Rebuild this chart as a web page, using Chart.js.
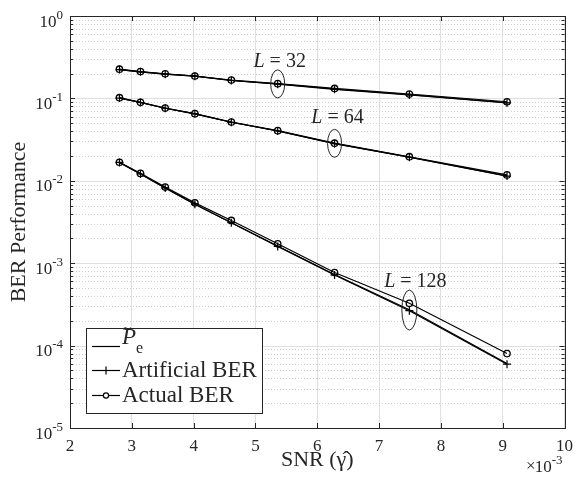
<!DOCTYPE html>
<html><head><meta charset="utf-8">
<script src="https://cdn.jsdelivr.net/npm/chart.js@4.4.1/dist/chart.umd.min.js"></script>
<style>
html,body{margin:0;padding:0;background:#fff;}
#wrap{position:relative;width:581px;height:477px;}
</style></head><body>
<div id="wrap"><canvas id="c"></canvas></div>
<script>
'use strict';

/* ── DATA ────────────────────────────────────────────────── */
const SNR = [2.80, 3.14, 3.54, 4.02, 4.61, 5.36, 6.28, 7.49, 9.07];   // ×10^-3
const X_TICKS = [2, 3, 4, 5, 6, 7, 8, 9, 10];
const Y_DECADES = [-5, -4, -3, -2, -1, 0];

const PE_32  = [0.224, 0.210, 0.197, 0.186, 0.165, 0.150, 0.130, 0.111, 0.089];
const ART_32 = [0.224, 0.210, 0.197, 0.186, 0.165, 0.149, 0.129, 0.110, 0.088];
const ACT_32 = [0.226, 0.212, 0.199, 0.187, 0.167, 0.151, 0.132, 0.113, 0.091];

const PE_64  = [0.101, 0.0893, 0.0760, 0.0650, 0.0514, 0.0403, 0.0283, 0.0194, 0.0115];
const ART_64 = [0.101, 0.0892, 0.0759, 0.0649, 0.0513, 0.0402, 0.0282, 0.0193, 0.0114];
const ACT_64 = [0.102, 0.0897, 0.0764, 0.0653, 0.0517, 0.0406, 0.0286, 0.0196, 0.0118];

const PE_128  = [0.0167, 0.0121, 0.0082, 0.0052, 0.0031, 0.00162, 0.00073, 0.000272, 0.0000605];
const ART_128 = [0.0167, 0.0121, 0.0082, 0.0052, 0.0031, 0.00160, 0.00072, 0.000265, 0.0000595];
const ACT_128 = [0.0168, 0.0123, 0.0084, 0.0054, 0.0033, 0.00172, 0.00077, 0.000326, 0.0000800];

const GROUP_L = ['32', '64', '128'];
const ANCHOR_X = [5.36, 6.28, 7.49];
const ANCHOR_Y = [0.150, 0.0285, 0.00027];

/* ── STYLE ───────────────────────────────────────────────── */
const SERIF = "'Liberation Serif','Times New Roman',serif";
const INK = '#262626';
const ELL = [ {rx:7, ry:14, dx:2, gap:3}, {rx:7, ry:14, dx:3, gap:6}, {rx:7.5, ry:20, dx:6, gap:3} ];

const pts = arr => SNR.map((x, i) => ({ x, y: arr[i] }));

const GROUPS = [
  [PE_32, ART_32, ACT_32],
  [PE_64, ART_64, ACT_64],
  [PE_128, ART_128, ACT_128],
];

const datasets = [];
GROUPS.forEach(([pe, art, act], gi) => {
  datasets.push({ label:'Pe L=' + GROUP_L[gi], data:pts(pe), borderColor:'#000', borderWidth:1.2,
    pointRadius:0 });
  datasets.push({ label:'Artificial L=' + GROUP_L[gi], data:pts(art), borderColor:'#000', borderWidth:1.2,
    pointStyle:'cross', pointRadius:4, pointBorderColor:'#000', pointBorderWidth:1.2 });
  datasets.push({ label:'Actual L=' + GROUP_L[gi], data:pts(act), borderColor:'#000', borderWidth:1.2,
    pointStyle:'circle', pointRadius:3.2, pointBorderColor:'#000', pointBackgroundColor:'rgba(0,0,0,0)',
    pointBorderWidth:1.3 });
});

/* ── HELPERS ─────────────────────────────────────────────── */
// "10" with a raised exponent, right edge at xRight, base baseline at yBase
function supText(ctx, base, exp, xRight, yBase) {
  ctx.font = `17px ${SERIF}`; const wb = ctx.measureText(base).width;
  ctx.font = `13px ${SERIF}`; const we = ctx.measureText(exp).width;
  const x0 = xRight - wb - we;
  ctx.textAlign = 'left'; ctx.textBaseline = 'alphabetic';
  ctx.font = `17px ${SERIF}`; ctx.fillText(base, x0, yBase);
  ctx.font = `13px ${SERIF}`; ctx.fillText(exp, x0 + wb, yBase - 8);
}

/* ── PLUGIN: grid, frame, labels, legend ─────────────────── */
const decor = {
  id:'decor',
  beforeDatasetsDraw(chart) {
    const ctx = chart.ctx, ys = chart.scales.y;
    const { left, right } = chart.chartArea;
    ctx.save();
    ctx.lineWidth = 1;
    Y_DECADES.forEach((d, di) => {
      for (let k = 1; k <= 9; k++) {
        if (k > 1 && di === Y_DECADES.length - 1) break;
        const y = Math.round(ys.getPixelForValue(k * Math.pow(10, d))) + 0.5;
        if (k === 1) { ctx.strokeStyle = '#e0e0e0'; ctx.setLineDash([]); }
        else { ctx.strokeStyle = '#cfcfcf'; ctx.setLineDash([1, 2]); }
        ctx.beginPath(); ctx.moveTo(left, y); ctx.lineTo(right, y); ctx.stroke();
      }
    });
    ctx.restore();
  },
  afterDatasetsDraw(chart) {
    const ctx = chart.ctx, xs = chart.scales.x, ys = chart.scales.y;
    const { left, right, top, bottom } = chart.chartArea;
    ctx.save();
    ctx.strokeStyle = INK; ctx.fillStyle = INK; ctx.lineWidth = 1; ctx.setLineDash([]);

    // ticks (inside, both sides)
    ctx.beginPath();
    X_TICKS.forEach(v => {
      const x = Math.round(xs.getPixelForValue(v)) + 0.5;
      ctx.moveTo(x, bottom); ctx.lineTo(x, bottom - 5);
      ctx.moveTo(x, top); ctx.lineTo(x, top + 5);
    });
    Y_DECADES.forEach((d, di) => {
      for (let k = 1; k <= 9; k++) {
        if (k > 1 && di === Y_DECADES.length - 1) break;
        const y = Math.round(ys.getPixelForValue(k * Math.pow(10, d))) + 0.5;
        const len = k === 1 ? 5 : 3;
        ctx.moveTo(left, y); ctx.lineTo(left + len, y);
        ctx.moveTo(right, y); ctx.lineTo(right - len, y);
      }
    });
    ctx.stroke();
    ctx.strokeRect(Math.round(left) + 0.5, Math.round(top) + 0.5,
                   Math.round(right - left), Math.round(bottom - top));

    // y tick labels 10^n
    Y_DECADES.forEach(d => {
      supText(ctx, '10', String(d), left - 7, ys.getPixelForValue(Math.pow(10, d)) + 10.5);
    });
    // x exponent
    ctx.font = `17px ${SERIF}`; ctx.fillText('×', 526, bottom + 43);
    supText(ctx, '10', '-3', right - 2, bottom + 43.5);

    // group ellipses
    GROUP_L.forEach((L, i) => {
      const e = ELL[i];
      const cx = xs.getPixelForValue(ANCHOR_X[i]);
      const cy = ys.getPixelForValue(ANCHOR_Y[i]);
      ctx.beginPath(); ctx.ellipse(cx, cy, e.rx, e.ry, 0, 0, Math.PI * 2); ctx.stroke();
      ctx.font = `italic 20px ${SERIF}`; const wL = ctx.measureText('L').width;
      ctx.font = `20px ${SERIF}`; const rest = ' = ' + L; const wr = ctx.measureText(rest).width;
      const x0 = cx + e.dx - (wL + wr) / 2, by = cy - e.ry - e.gap;
      ctx.textAlign = 'left'; ctx.textBaseline = 'alphabetic';
      ctx.font = `italic 20px ${SERIF}`; ctx.fillText('L', x0, by);
      ctx.font = `20px ${SERIF}`; ctx.fillText(rest, x0 + wL, by);
    });

    // legend
    const bx = 86, by = 328, bw = 176, bh = 85;
    ctx.fillStyle = '#fff'; ctx.fillRect(bx, by, bw, bh);
    ctx.strokeStyle = INK; ctx.strokeRect(bx + 0.5, by + 0.5, bw, bh);
    ctx.strokeStyle = '#000'; ctx.fillStyle = '#000'; ctx.lineWidth = 1.2;
    const rows = [346, 370, 395];
    rows.forEach((ry, i) => {
      const y = ry + 0.5;
      ctx.beginPath(); ctx.moveTo(92, y); ctx.lineTo(120, y); ctx.stroke();
      if (i === 1) {
        ctx.beginPath(); ctx.moveTo(102, y); ctx.lineTo(110, y); ctx.moveTo(106, y - 4); ctx.lineTo(106, y + 4); ctx.stroke();
      } else if (i === 2) {
        ctx.fillStyle = '#fff';
        ctx.beginPath(); ctx.arc(106, y, 2.6, 0, Math.PI * 2); ctx.fill(); ctx.stroke();
        ctx.fillStyle = '#000';
      }
    });
    ctx.fillStyle = INK;
    ctx.textAlign = 'left'; ctx.textBaseline = 'alphabetic';
    ctx.font = `italic 23px ${SERIF}`; ctx.fillText('P', 122, 344);
    ctx.font = `15px ${SERIF}`; ctx.fillText('~', 123, 334);
    ctx.font = `16px ${SERIF}`; ctx.fillText('e', 136, 353);
    ctx.font = `23px ${SERIF}`;
    ctx.fillText('Artificial BER', 122, 377);
    ctx.fillText('Actual BER', 122, 402);
    ctx.restore();
  }
};

/* ── CHART ───────────────────────────────────────────────── */
new Chart(document.getElementById('c'), {
  type:'line',
  data:{ datasets },
  options:{
    responsive:true, maintainAspectRatio:false, animation:false,
    layout:{ padding:{ top:16, right:11, bottom:0, left:0 } },
    plugins:{ legend:{ display:false }, tooltip:{ enabled:false } },
    scales:{
      x:{
        type:'linear', min:2, max:10,
        afterFit:s => { s.height = 49; },
        afterBuildTicks:s => { s.ticks = X_TICKS.map(v => ({ value:v })); },
        grid:{ color:'#e0e0e0', drawTicks:false },
        border:{ display:false },
        ticks:{ font:{ family:SERIF, size:17 }, color:INK, padding:8, maxRotation:0, autoSkip:false },
        title:{ display:true, text:'SNR (γ\u0302)', font:{ family:SERIF, size:22 }, color:INK, padding:{ top:2 } }
      },
      y:{
        type:'logarithmic', min:1e-5, max:1,
        afterFit:s => { s.width = 70; },
        grid:{ display:false },
        border:{ display:false },
        ticks:{ display:false },
        title:{ display:true, text:'BER Performance', font:{ family:SERIF, size:22 }, color:INK, padding:{ top:6 } }
      }
    }
  },
  plugins:[decor]
});
</script>
</body></html>
